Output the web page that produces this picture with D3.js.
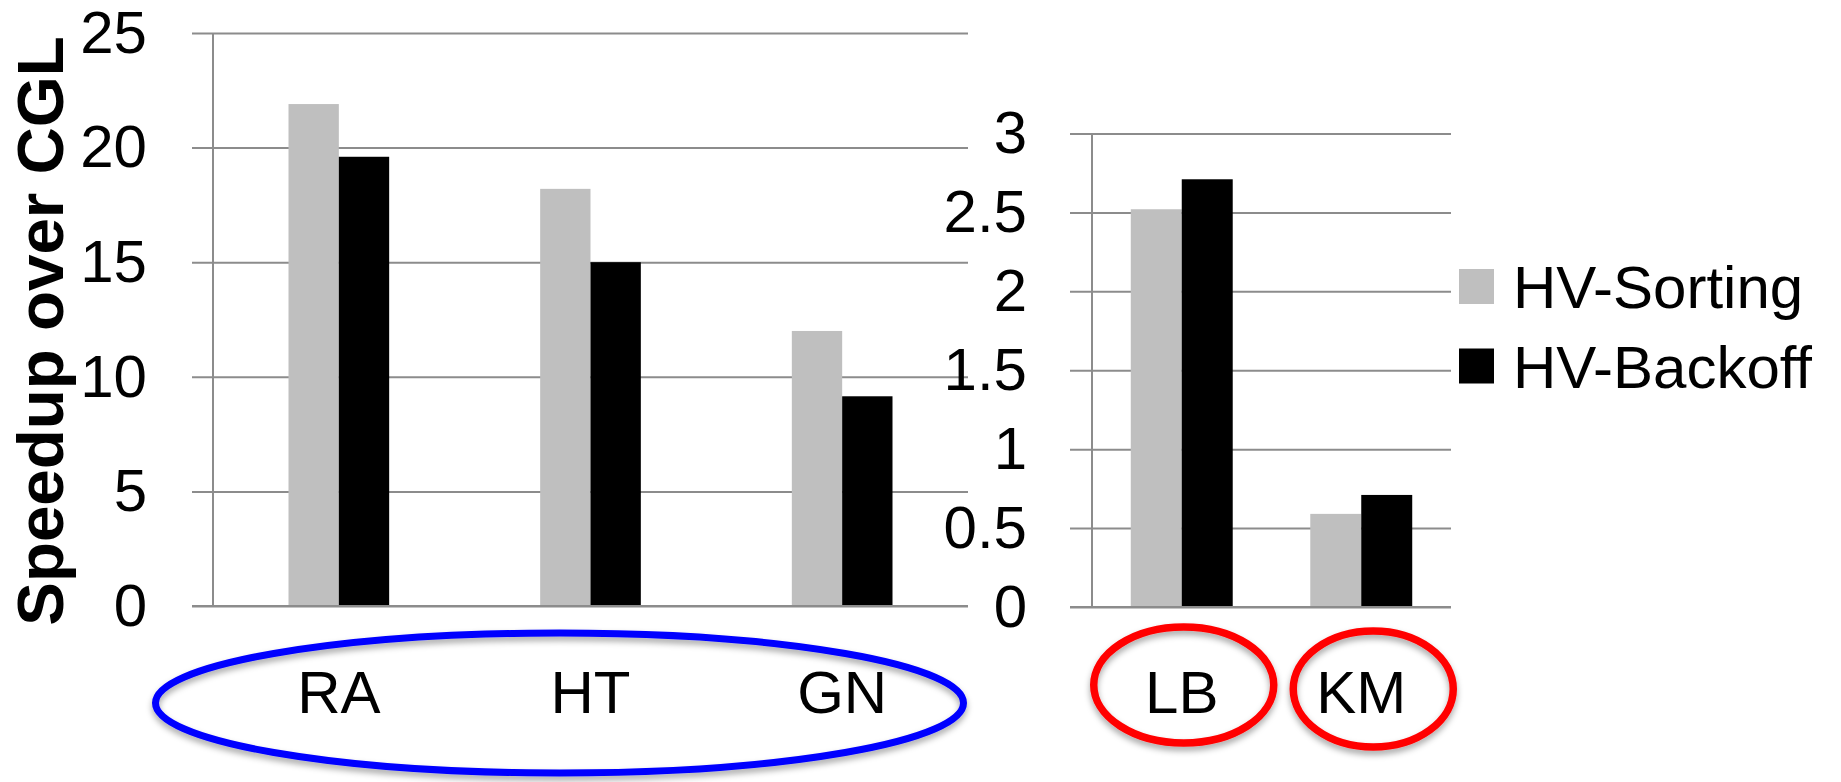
<!DOCTYPE html>
<html>
<head>
<meta charset="utf-8">
<script src="https://cdn.jsdelivr.net/npm/d3@7"></script>
<style>
  html, body { margin: 0; padding: 0; background: #fff; }
  svg { display: block; }
  text { font-family: "Liberation Sans", Arial, sans-serif; fill: #000; }
</style>
</head>
<body>
<div id="chart"></div>
<script>
// data
const leftCategories = ['RA', 'HT', 'GN']
const rightCategories = ['LB', 'KM']
const seriesNames = ['HV-Sorting', 'HV-Backoff']
const leftSorting = [21.9, 18.2, 12.0]
const leftBackoff = [19.6, 15.0, 9.15]
const rightSorting = [2.52, 0.59]
const rightBackoff = [2.71, 0.71]
const leftTicks = [0, 5, 10, 15, 20, 25]
const rightTicks = [0, 0.5, 1, 1.5, 2, 2.5, 3]
const yTitle = 'Speedup over CGL'

const colors = d3.scaleOrdinal().domain(seriesNames).range(['#bfbfbf', '#000000'])

const width = 1841
const height = 782
const gridColor = '#8c8c8c'

const svg = d3.select('#chart').append('svg')
  .attr('width', width)
  .attr('height', height)

const defs = svg.append('defs')
defs.append('filter')
  .attr('id', 'shadow')
  .attr('x', '-10%').attr('y', '-20%')
  .attr('width', '120%').attr('height', '150%')
  .append('feDropShadow')
  .attr('dx', 0).attr('dy', 4)
  .attr('stdDeviation', 3)
  .attr('flood-color', '#000')
  .attr('flood-opacity', 0.35)

// one panel = band scale, linear scale, gridlines, bars
function panel (opts) {
  const x0 = d3.scaleBand()
    .domain(opts.categories)
    .range([opts.left, opts.right])
    .paddingInner(opts.pad)
    .paddingOuter(opts.pad / 2)
  const x1 = d3.scaleBand()
    .domain(seriesNames)
    .range([0, x0.bandwidth()])
  const y = d3.scaleLinear()
    .domain([0, d3.max(opts.ticks)])
    .range([opts.bottom, opts.top])

  const g = svg.append('g')

  // gridlines + tick labels
  g.append('g')
    .attr('transform', 'translate(' + opts.gridStart + ',0)')
    .call(d3.axisLeft(y)
      .tickValues(opts.ticks)
      .tickSize(-(opts.right - opts.gridStart))
      .tickPadding(opts.labelPad)
      .tickFormat(d3.format('')))
    .call(a => a.select('.domain').remove())
    .call(a => a.selectAll('line').attr('stroke', gridColor).attr('stroke-width', 2))
    .call(a => a.selectAll('text')
      .attr('font-size', 60)
      .attr('font-family', '"Liberation Sans", Arial, sans-serif')
      .attr('fill', '#000'))

  // vertical axis line
  g.append('line')
    .attr('x1', opts.left).attr('x2', opts.left)
    .attr('y1', y(d3.max(opts.ticks))).attr('y2', y(0))
    .attr('stroke', gridColor)
    .attr('stroke-width', 2)

  const rows = opts.categories.map((c, i) => ({ cat: c, values: [opts.a[i], opts.b[i]] }))

  const groups = g.selectAll('.grp')
    .data(rows)
    .enter().append('g')
    .attr('class', 'grp')
    .attr('transform', d => 'translate(' + x0(d.cat) + ',0)')

  groups.selectAll('rect')
    .data(d => d.values.map((v, j) => ({ key: seriesNames[j], value: v })))
    .enter().append('rect')
    .attr('x', d => x1(d.key))
    .attr('y', d => y(d.value))
    .attr('width', x1.bandwidth())
    .attr('height', d => y(0) - y(d.value))
    .attr('fill', d => colors(d.key))

  // redraw baseline on top of bars
  g.append('line')
    .attr('x1', opts.gridStart).attr('x2', opts.right)
    .attr('y1', y(0)).attr('y2', y(0))
    .attr('stroke', gridColor)
    .attr('stroke-width', 2)

  // category labels
  g.selectAll('.cat')
    .data(opts.categories)
    .enter().append('text')
    .attr('class', 'cat')
    .attr('x', d => x0(d) + x0.bandwidth() / 2)
    .attr('y', 713)
    .attr('text-anchor', 'middle')
    .attr('font-size', 60)
    .text(d => d)

  return { x0, x1, y, g }
}

const left = panel({
  categories: leftCategories, a: leftSorting, b: leftBackoff, ticks: leftTicks,
  left: 213, right: 968, top: 33, bottom: 606, gridStart: 192, labelPad: 45, pad: 0.6
})

const right = panel({
  categories: rightCategories, a: rightSorting, b: rightBackoff, ticks: rightTicks,
  left: 1092, right: 1451, top: 133.5, bottom: 607, gridStart: 1070, labelPad: 43, pad: 0.432
})

// y axis title
svg.append('text')
  .attr('transform', 'translate(63,331) rotate(-90)')
  .attr('text-anchor', 'middle')
  .attr('font-size', 65.5)
  .attr('font-weight', 'bold')
  .text(yTitle)

// annotation ellipses
const bandMid = (p, c) => p.x0(c) + p.x0.bandwidth() / 2
const ann = svg.append('g').attr('fill', 'none').attr('filter', 'url(#shadow)')
ann.append('ellipse')
  .attr('cx', bandMid(left, 'HT') - 31)
  .attr('cy', 703)
  .attr('rx', 404).attr('ry', 70)
  .attr('stroke', '#0000ff').attr('stroke-width', 7)
ann.append('ellipse')
  .attr('cx', bandMid(right, 'LB') + 2)
  .attr('cy', 685)
  .attr('rx', 90).attr('ry', 58)
  .attr('stroke', '#ff0000').attr('stroke-width', 7.5)
ann.append('ellipse')
  .attr('cx', bandMid(right, 'KM') + 12)
  .attr('cy', 689)
  .attr('rx', 80).attr('ry', 58)
  .attr('stroke', '#ff0000').attr('stroke-width', 7.5)

// legend
const legend = svg.append('g').attr('transform', 'translate(1459,269)')
const item = legend.selectAll('.item')
  .data(seriesNames)
  .enter().append('g')
  .attr('class', 'item')
  .attr('transform', (d, i) => 'translate(0,' + i * 79.5 + ')')
item.append('rect')
  .attr('width', 35).attr('height', 35)
  .attr('fill', d => colors(d))
item.append('text')
  .attr('x', 54)
  .attr('y', 39)
  .attr('font-size', 60)
  .text(d => d)
</script>
</body>
</html>
